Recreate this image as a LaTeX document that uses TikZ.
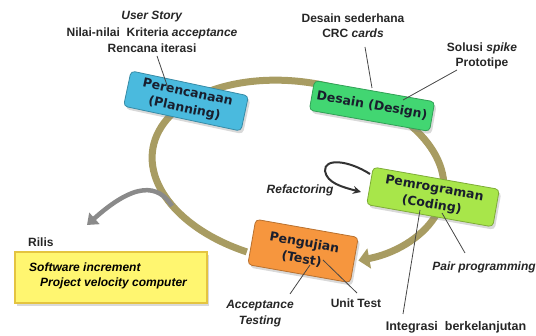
\documentclass[tikz,border=0pt]{standalone}
\usepackage{fontspec}
\setmainfont{Liberation Sans}
\newfontfamily\boxfont{DejaVu Sans}
\usetikzlibrary{arrows.meta,shadows}
\definecolor{ringc}{RGB}{168,156,98}
\definecolor{plan}{RGB}{74,186,222}
\definecolor{desg}{RGB}{66,214,114}
\definecolor{codc}{RGB}{168,230,74}
\definecolor{tstc}{RGB}{246,150,62}
\definecolor{yel}{RGB}{255,246,112}
\definecolor{yelb}{RGB}{228,196,64}
\definecolor{lnc}{RGB}{70,70,70}
\definecolor{txc}{RGB}{25,30,45}
\definecolor{grayarr}{RGB}{138,138,138}
\begin{document}
\begin{tikzpicture}[x=1pt,y=-1pt,
  phase/.style={rounded corners=4pt, draw=#1!75!black, line width=0.8pt, fill=#1,
    rotate=-10, align=center, text=txc, inner sep=0pt,
    font=\boxfont\bfseries\fontsize{12.5}{16.5}\selectfont,
    drop shadow={opacity=0.3, shadow xshift=2pt, shadow yshift=-3pt}},
  lbl/.style={font=\bfseries\fontsize{12}{15.5}\selectfont, text=black!85, align=center, inner sep=1pt},
  conn/.style={draw=lnc, line width=0.8pt},
]
\useasboundingbox (0,0) rectangle (536,336);
% ring
\begin{scope}[shift={(298,172)}, rotate=-9]
  \draw[ringc, line width=7pt, -{Triangle[length=11pt,width=20pt]}]
    (105:147 and 90) arc[start angle=105, end angle=420, x radius=147, y radius=90];
\end{scope}
% release arrow
\coordinate (gS) at (172,206);
\coordinate (gE) at (87,225);
\draw[grayarr, line width=4.5pt, -{Triangle[length=10pt,width=15pt]}]
  (gS) .. controls (158,184) and (135,182) .. (gE);
% phase boxes
\node[phase=plan, rotate=-2, minimum width=120pt, minimum height=36pt] (plan) at (186,101) {Perencanaan\\(Planning)};
\node[phase=desg, minimum width=122pt, minimum height=30pt] (des) at (372,106) {Desain (Design)};
\node[phase=codc, minimum width=128pt, minimum height=38pt] (cod) at (433,197) {Pemrograman\\(Coding)};
\node[phase=tstc, minimum width=104pt, minimum height=46pt] (tst) at (303,251) {Pengujian\\(Test)};
% release box
\node[draw=yelb, line width=1.2pt, fill=yel, minimum width=192pt, minimum height=51pt,
  drop shadow={opacity=0.3, shadow xshift=2pt, shadow yshift=-3pt}] (rel) at (111,277.5) {};
\node[font=\bfseries\itshape\fontsize{12}{15}\selectfont, align=left, anchor=west, inner sep=0pt] (reltxt) at (29,275.5)
  {Software increment\\\hspace{11pt}Project velocity computer};
\node[lbl, anchor=west] (rilis) at (27,242) {Rilis};
% labels
\node[lbl, font=\bfseries\fontsize{12}{16.5}\selectfont] (plbl) at (152,32) {\textit{User Story}\\Nilai-nilai\ \ Kriteria \textit{acceptance}\\Rencana iterasi};
\node[lbl] (dlbl) at (353,25.5) {Desain sederhana\\CRC \textit{cards}};
\node[lbl, font=\bfseries\fontsize{12}{14.5}\selectfont] (slbl) at (482,56) {Solusi \textit{spike}\\Prototipe};
\node[lbl] (rflbl) at (300,190) {\textit{Refactoring}};
\node[lbl] (pplbl) at (484,267) {\textit{Pair programming}};
\node[lbl, font=\bfseries\fontsize{12.5}{15}\selectfont] (ilbl) at (456,327) {Integrasi\ \ berkelanjutan};
\node[lbl] (ulbl) at (356,303) {Unit Test};
\node[lbl, font=\bfseries\fontsize{12}{16}\selectfont] (albl) at (260,314) {\textit{Acceptance}\\\textit{Testing}};
% connector end points
\coordinate (p1) at (157,56);  \coordinate (p2) at (168,88);
\coordinate (d1) at (365,47);  \coordinate (d2) at (372,88);
\coordinate (s1) at (457,70);  \coordinate (s2) at (403,100);
\coordinate (q1) at (442,213); \coordinate (q2) at (465,253);
\coordinate (i1) at (420,210); \coordinate (i2) at (403,314);
\coordinate (u1) at (323,260); \coordinate (u2) at (357,293);
\coordinate (a1) at (310,265); \coordinate (a2) at (290,294);
\draw[conn] (p1) -- (p2);
\draw[conn] (d1) -- (d2);
\draw[conn] (s1) -- (s2);
\draw[conn] (q1) -- (q2);
\draw[conn] (i1) -- (i2);
\draw[conn] (u1) -- (u2);
\draw[conn] (a1) -- (a2);
% refactoring loop
\coordinate (lS) at (370,174);
\coordinate (lE) at (361,192);
\draw[draw=black!80, line width=2pt, -{Stealth[length=8pt,width=8pt]}]
  (lS) .. controls (348,160) and (324,158) .. (325,171) .. controls (327,183) and (342,187) .. (lE);
\end{tikzpicture}
\end{document}
